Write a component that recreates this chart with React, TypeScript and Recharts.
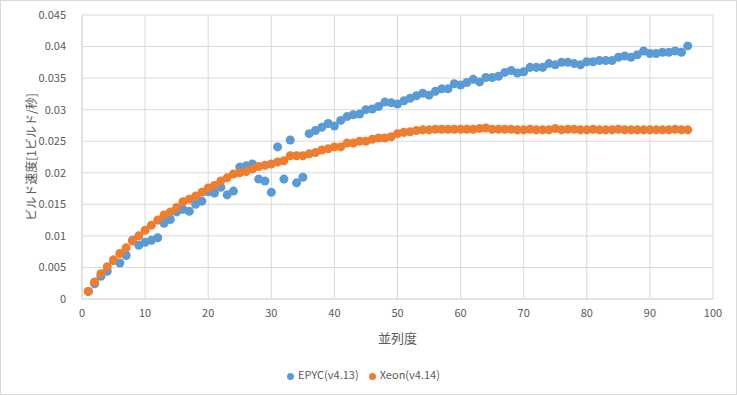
import {
  ScatterChart,
  Scatter,
  XAxis,
  YAxis,
  ZAxis,
  CartesianGrid,
  Legend,
} from "recharts";

const parallelism = [
  1, 2, 3, 4, 5, 6, 7, 8, 9, 10, 11, 12, 13, 14, 15, 16, 17, 18, 19, 20, 21,
  22, 23, 24, 25, 26, 27, 28, 29, 30, 31, 32, 33, 34, 35, 36, 37, 38, 39, 40,
  41, 42, 43, 44, 45, 46, 47, 48, 49, 50, 51, 52, 53, 54, 55, 56, 57, 58, 59,
  60, 61, 62, 63, 64, 65, 66, 67, 68, 69, 70, 71, 72, 73, 74, 75, 76, 77, 78,
  79, 80, 81, 82, 83, 84, 85, 86, 87, 88, 89, 90, 91, 92, 93, 94, 95, 96,
];

const epycSpeed = [
  0.0012, 0.0024, 0.0036, 0.0044, 0.0061, 0.0057, 0.0069, 0.0093, 0.0085,
  0.009, 0.0093, 0.0097, 0.012, 0.0126, 0.0138, 0.0142, 0.0139, 0.015, 0.0155,
  0.017, 0.0168, 0.0177, 0.0165, 0.0171, 0.0209, 0.0211, 0.0214, 0.019,
  0.0187, 0.0169, 0.0241, 0.019, 0.0252, 0.0184, 0.0193, 0.0262, 0.0267,
  0.0272, 0.0278, 0.0274, 0.0283, 0.0289, 0.0292, 0.0293, 0.03, 0.0301,
  0.0305, 0.0312, 0.0311, 0.0309, 0.0314, 0.0318, 0.0322, 0.0326, 0.0323,
  0.0329, 0.0333, 0.0333, 0.0341, 0.0339, 0.0343, 0.0348, 0.0344, 0.0351,
  0.0351, 0.0353, 0.0359, 0.0362, 0.0358, 0.036, 0.0367, 0.0367, 0.0367,
  0.0373, 0.0371, 0.0375, 0.0375, 0.0373, 0.0371, 0.0376, 0.0376, 0.0378,
  0.0378, 0.0378, 0.0383, 0.0385, 0.0383, 0.0387, 0.0393, 0.0389, 0.0389,
  0.0391, 0.0391, 0.0393, 0.0391, 0.0401,
];

const xeonSpeed = [
  0.0012, 0.0027, 0.004, 0.0051, 0.0062, 0.0072, 0.0081, 0.0092, 0.01,
  0.0109, 0.0117, 0.0125, 0.0133, 0.0138, 0.0145, 0.0154, 0.0158, 0.0163,
  0.0169, 0.0176, 0.018, 0.0187, 0.0192, 0.0198, 0.02, 0.0202, 0.0206, 0.021,
  0.0212, 0.0214, 0.0217, 0.0219, 0.0227, 0.0227, 0.0227, 0.023, 0.0232,
  0.0236, 0.0238, 0.0241, 0.0241, 0.0247, 0.0247, 0.025, 0.025, 0.0253,
  0.0255, 0.0255, 0.0257, 0.0262, 0.0264, 0.0265, 0.0267, 0.0268, 0.0268,
  0.0269, 0.0269, 0.0269, 0.0269, 0.0269, 0.0269, 0.0269, 0.027, 0.0271,
  0.0269, 0.0269, 0.0269, 0.0269, 0.0268, 0.0268, 0.0269, 0.0268, 0.0268,
  0.0268, 0.027, 0.0268, 0.0269, 0.0269, 0.0268, 0.0268, 0.0269, 0.0268,
  0.0268, 0.0268, 0.0269, 0.0268, 0.0268, 0.0268, 0.0268, 0.0268, 0.0268,
  0.0268, 0.0268, 0.0269, 0.0268, 0.0268,
];

const xTicks = [0, 10, 20, 30, 40, 50, 60, 70, 80, 90, 100];
const yTicks = [0, 0.005, 0.01, 0.015, 0.02, 0.025, 0.03, 0.035, 0.04, 0.045];

const epycData = parallelism.map((p, i) => ({ p, v: epycSpeed[i] }));
const xeonData = parallelism.map((p, i) => ({ p, v: xeonSpeed[i] }));

const FONT = '"Noto Sans CJK JP", "Noto Sans", sans-serif';
const TEXT = "#595959";
const GRID = "#d9d9d9";

export default function App() {
  return (
    <div
      style={{
        position: "absolute",
        left: 0,
        top: 0,
        width: 737,
        height: 395,
        boxSizing: "border-box",
        border: `1px solid ${GRID}`,
        background: "#fff",
        fontFamily: FONT,
      }}
    >
      <ScatterChart
        width={735}
        height={393}
        margin={{ top: 14, right: 23, left: 0, bottom: 45 }}
      >
        <CartesianGrid stroke={GRID} />
        <XAxis
          type="number"
          dataKey="p"
          domain={[0, 100]}
          ticks={xTicks}
          tickLine={false}
          tickMargin={4}
          height={50}
          axisLine={{ stroke: GRID }}
          tick={{ fill: TEXT, fontSize: 11 }}
          label={{
            value: "並列度",
            position: "insideBottom",
            offset: 6,
            fill: TEXT,
            fontSize: 13,
          }}
        />
        <YAxis
          type="number"
          dataKey="v"
          domain={[0, 0.045]}
          ticks={yTicks}
          tickLine={false}
          tickMargin={10}
          width={81}
          axisLine={{ stroke: GRID }}
          tick={{ fill: TEXT, fontSize: 11 }}
          label={{
            value: "ビルド速度[1ビルド/秒]",
            angle: -90,
            position: "insideLeft",
            offset: 31,
            fill: TEXT,
            fontSize: 12,
            style: { textAnchor: "middle" },
          }}
        />
        <ZAxis range={[34, 34]} />
        <Legend
          verticalAlign="middle"
          align="center"
          iconType="circle"
          iconSize={7}
          wrapperStyle={{ top: 365, left: 0, width: 735, fontSize: 11 }}
          formatter={(value) => <span style={{ color: TEXT }}>{value}</span>}
        />
        <Scatter
          name="EPYC(v4.13)"
          data={epycData}
          fill="#5B9BD5"
          isAnimationActive={false}
        />
        <Scatter
          name="Xeon(v4.14)"
          data={xeonData}
          fill="#ED7D31"
          isAnimationActive={false}
        />
      </ScatterChart>
    </div>
  );
}
